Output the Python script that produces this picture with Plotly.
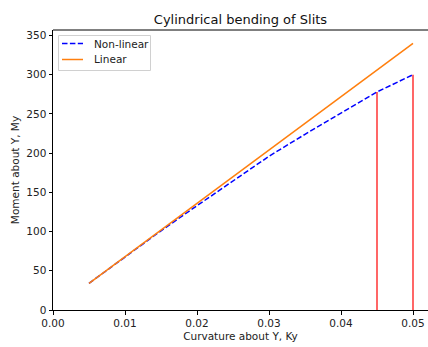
import plotly.graph_objects as go

# Curvature about Y and the resulting moments
curvature = [0.005, 0.010, 0.015, 0.020, 0.025, 0.030, 0.035, 0.040, 0.045, 0.050]
moment_nonlinear = [34, 68, 101, 133, 165, 196, 224, 251, 278, 300]
moment_linear = [34, 68, 102, 136, 170, 204, 238, 272, 306, 340]

# Vertical markers at the two limit curvatures (drawn from zero up to the non-linear curve)
limit_curvature = [0.045, 0.050]
limit_moment = [278, 300]

x_ticks = [0.00, 0.01, 0.02, 0.03, 0.04, 0.05]
y_ticks = [0, 50, 100, 150, 200, 250, 300, 350]

series_names = ["Non-linear", "Linear"]
series_colors = ["#0000ff", "#ff7f0e"]
series_dash = ["5.5px,2.4px", "solid"]

FONT = "DejaVu Sans"
W, H = 428, 347
L, R, T, B = 53, 0, 30, 37
PW, PH = W - L - R, H - T - B


def px_x(p):
    return (p - L) / PW


def px_y(p):
    return (H - B - p) / PH


fig = go.Figure()

for ys, name, color, dash in zip([moment_nonlinear, moment_linear], series_names,
                                 series_colors, series_dash):
    fig.add_trace(go.Scatter(
        x=curvature, y=ys, mode="lines", name=name, showlegend=False,
        line=dict(color=color, width=1.5, dash=dash),
    ))

for k, m in zip(limit_curvature, limit_moment):
    fig.add_trace(go.Scatter(
        x=[k, k], y=[0, m], mode="lines", showlegend=False,
        line=dict(color="red", width=1.2),
    ))

fig.update_layout(
    width=W, height=H,
    margin=dict(l=L, r=R, t=T, b=B),
    paper_bgcolor="white", plot_bgcolor="white",
    font=dict(family=FONT, size=10.5, color="#222222"),
    title=dict(text="Cylindrical bending of Slits", x=0.5, xanchor="center",
               xref="paper", y=1 - 19 / H, yanchor="middle",
               font=dict(family=FONT, size=13, color="#111111")),
    showlegend=False,
)

fig.update_xaxes(
    range=[0, 0.052083], tickvals=x_ticks, tickformat=".2f",
    showgrid=False, zeroline=False,
    showline=True, linecolor="black", linewidth=1,
    ticks="outside", ticklen=3.5, tickcolor="black", tickwidth=1,
    title=dict(text="Curvature about Y, Ky", standoff=4,
               font=dict(family=FONT, size=10.5, color="#222222")),
)
fig.update_yaxes(
    range=[0, 357], tickvals=y_ticks,
    showgrid=False, zeroline=False,
    showline=True, linecolor="black", linewidth=1,
    ticks="outside", ticklen=3.5, tickcolor="black", tickwidth=1,
    title=dict(text="Moment about Y, My", standoff=4,
               font=dict(family=FONT, size=10.5, color="#222222")),
)

# Top spine of the axes box
fig.add_shape(type="line", xref="paper", yref="paper", x0=0, x1=1, y0=1, y1=1,
              line=dict(color="black", width=1))

# Legend box with line samples and labels
fig.add_shape(type="rect", xref="paper", yref="paper",
              x0=px_x(58.5), x1=px_x(150.5), y0=px_y(70.5), y1=px_y(35.5),
              line=dict(color="#d0d0d0", width=1), fillcolor="rgba(255,255,255,0.8)",
              layer="above")
for row, (name, color, dash) in enumerate(zip(series_names, series_colors, series_dash)):
    yy = px_y(43.5 + 16 * row)
    fig.add_shape(type="line", xref="paper", yref="paper",
                  x0=px_x(62), x1=px_x(83), y0=yy, y1=yy,
                  line=dict(color=color, width=1.5, dash=dash), layer="above")
    fig.add_annotation(xref="paper", yref="paper", x=px_x(91.5), y=yy,
                       xanchor="left", yanchor="middle", showarrow=False,
                       text=name, font=dict(family=FONT, size=10.5, color="#222222"))

fig.write_html("out.html")
